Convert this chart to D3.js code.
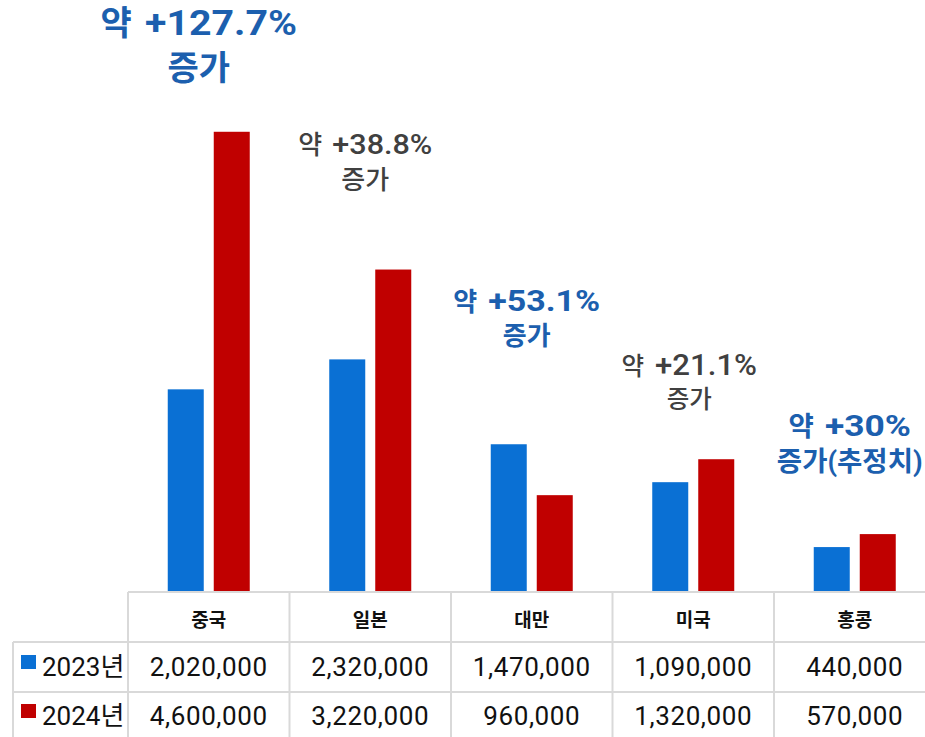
<!DOCTYPE html>
<html>
<head>
<meta charset="utf-8">
<script src="https://cdn.jsdelivr.net/npm/d3@7"></script>
<style>
  body { margin: 0; background: #fff; }
  svg { display: block; font-family: Roboto, "Noto Sans CJK KR", sans-serif; }
</style>
</head>
<body>
<svg id="chart"></svg>
<script>
const countries = ["중국", "일본", "대만", "미국", "홍콩"];
const seriesNames = ["2023년", "2024년"];
const values2023 = [2020000, 2320000, 1470000, 1090000, 440000];
const values2024 = [4600000, 3220000, 960000, 1320000, 570000];
const changeLabels = ["약 +127.7%", "약 +38.8%", "약 +53.1%", "약 +21.1%", "약 +30%"];
const changeSubLabels = ["증가", "증가", "증가", "증가", "증가(추정치)"];

const w = 925;
const h = 737;
const baseY = 591;
const tableLeft = 128;
const colW = 161.5;
const colors = ["#0a70d4", "#c00000"];

// annotation look, one entry per country (ko = korean size, num = number size, numW = stretched width)
const noteStyle = [
  { dx: -10, y: 35, gap: 45, ko: 34, num: 35, numW: 152, weight: 700, color: "#1c5fae" },
  { dx: -5, y: 154, gap: 35, ko: 26, num: 27, numW: 100, weight: 500, color: "#404040" },
  { dx: -5, y: 311, gap: 34, ko: 26, num: 29, numW: 112, weight: 700, color: "#1c5fae" },
  { dx: -4, y: 375, gap: 33, ko: 24.5, num: 29, numW: 102, weight: 500, color: "#404040" },
  { dx: -5, y: 436, gap: 35, ko: 27.5, num: 29.5, numW: 86, weight: 700, color: "#1c5fae" }
];

const svg = d3.select("#chart").attr("width", w).attr("height", h);

const x = d3.scaleBand()
  .domain(countries)
  .range([tableLeft, tableLeft + colW * countries.length]);

const xInner = d3.scaleBand()
  .domain(seriesNames)
  .range([-41, 41])
  .paddingInner(10 / 46);

const y = d3.scaleLinear()
  .domain([0, 5920000])
  .range([baseY, 0]);

const series = [values2023, values2024];

series.forEach((vals, si) => {
  svg.append("g")
    .selectAll("rect")
    .data(vals)
    .enter()
    .append("rect")
    .attr("x", (d, i) => x(countries[i]) + x.bandwidth() / 2 + xInner(seriesNames[si]))
    .attr("y", (d) => y(d))
    .attr("width", xInner.bandwidth())
    .attr("height", (d) => baseY - y(d))
    .attr("fill", colors[si]);
});

// annotations: korean word and the number are drawn apart, number is a bit wider
const notes = svg.append("g");
countries.forEach((c, i) => {
  const s = noteStyle[i];
  const cx = x(c) + x.bandwidth() / 2 + s.dx;
  const parts = changeLabels[i].split(" ");

  const ko = notes.append("text")
    .attr("y", s.y)
    .attr("font-size", s.ko).attr("font-weight", s.weight)
    .attr("fill", s.color)
    .text(parts[0]);
  const koW = ko.node().getComputedTextLength();
  const space = s.num * 0.38;
  const left = cx - (koW + space + s.numW) / 2;
  ko.attr("x", left);

  notes.append("text")
    .attr("x", left + koW + space).attr("y", s.y)
    .attr("font-size", s.num).attr("font-weight", s.weight)
    .attr("fill", s.color)
    .attr("textLength", s.numW)
    .attr("lengthAdjust", "spacingAndGlyphs")
    .text(parts[1]);

  notes.append("text")
    .attr("x", cx).attr("y", s.y + s.gap)
    .attr("text-anchor", "middle")
    .attr("font-size", s.ko).attr("font-weight", s.weight)
    .attr("fill", s.color)
    .text(changeSubLabels[i]);
});

// data table
const grid = "#d9d9d9";
const rowH = 50;
const table = svg.append("g");
const tableRight = tableLeft + colW * countries.length;

table.append("line")
  .attr("x1", tableLeft).attr("x2", tableRight)
  .attr("y1", baseY + 1).attr("y2", baseY + 1)
  .attr("stroke", grid).attr("stroke-width", 2);
[1, 2].forEach((r) => {
  table.append("line")
    .attr("x1", 13).attr("x2", tableRight)
    .attr("y1", baseY + 1 + r * rowH).attr("y2", baseY + 1 + r * rowH)
    .attr("stroke", grid).attr("stroke-width", 2);
});
table.append("line")
  .attr("x1", 13).attr("x2", 13)
  .attr("y1", baseY + 1 + rowH).attr("y2", h)
  .attr("stroke", grid).attr("stroke-width", 2);
countries.forEach((c) => {
  table.append("line")
    .attr("x1", x(c)).attr("x2", x(c))
    .attr("y1", baseY + 1).attr("y2", h)
    .attr("stroke", grid).attr("stroke-width", 2);
});

table.selectAll(".head")
  .data(countries)
  .enter()
  .append("text")
  .attr("x", (d) => x(d) + x.bandwidth() / 2)
  .attr("y", baseY + 36)
  .attr("text-anchor", "middle")
  .attr("font-size", 19).attr("font-weight", 700)
  .attr("fill", "#111")
  .text((d) => d);

const fmt = d3.format(",");
series.forEach((vals, si) => {
  const ty = baseY + 85 + si * 49;
  table.append("rect")
    .attr("x", 21).attr("y", ty - 21)
    .attr("width", 15).attr("height", 14)
    .attr("fill", colors[si]);
  table.append("text")
    .attr("x", 42).attr("y", ty)
    .attr("font-size", 26)
    .attr("fill", "#111")
    .text(seriesNames[si]);
  table.selectAll(".v" + si)
    .data(vals)
    .enter()
    .append("text")
    .attr("x", (d, i) => x(countries[i]) + x.bandwidth() / 2)
    .attr("y", ty)
    .attr("text-anchor", "middle")
    .attr("font-size", 26)
    .attr("letter-spacing", 0.6)
    .attr("fill", "#111")
    .text((d) => fmt(d));
});
</script>
</body>
</html>
